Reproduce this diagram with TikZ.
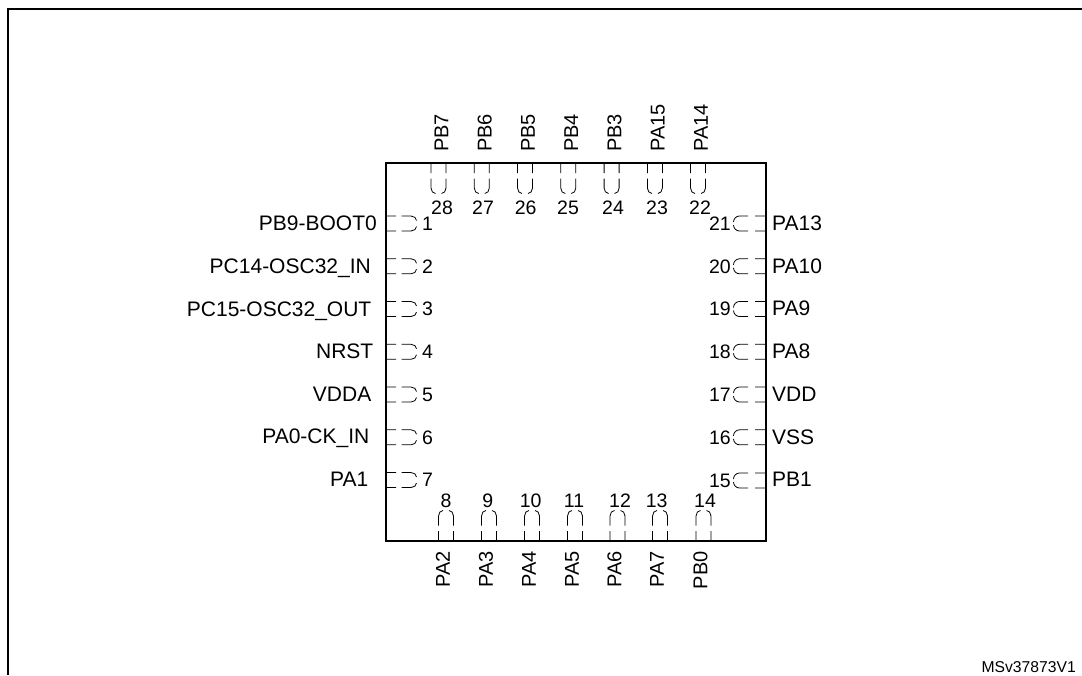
\documentclass[tikz,border=0pt]{standalone}
\usepackage{fontspec}
\setmainfont{Liberation Sans}
\tikzset{
  lbl/.style={inner sep=0pt,font=\fontsize{19.5}{22}\selectfont},
  sidelbl/.style={inner sep=0pt,font=\fontsize{21}{24}\selectfont},
  vertlbl/.style={inner sep=0pt,rotate=90,font=\fontsize{20}{22}\selectfont},
  frameline/.style={line width=2pt,line cap=butt},
  chip/.style={line width=2pt},
  pinline/.style={line width=0.8pt,black}
}
\newcommand{\pinL}{%
  \draw[pinline] (0,7.5)--(10,7.5) (0,-7.5)--(10,-7.5)
    (15.5,7.5)--(25,7.5) .. controls (28,7.5) and (30.5,5.5) .. (30.5,3)
    (15.5,-7.5)--(25,-7.5) .. controls (28,-7.5) and (30.5,-5.5) .. (30.5,-3);
}
\newcommand{\pinR}{%
  \draw[pinline] (0,7.5)--(10.5,7.5) (0,-7.5)--(10.5,-7.5)
    (17.5,7.5)--(26,7.5) .. controls (29,7.5) and (32,5) .. (32,1.5)
    (17.5,-7.5)--(26,-7.5) .. controls (29,-7.5) and (32,-5) .. (32,-1.5);
}
\begin{document}
\begin{tikzpicture}[x=1pt,y=-1pt]
\useasboundingbox (0,0) rectangle (1082,675);
\coordinate (fa) at (7.5,675);\coordinate (fb) at (7.5,9);\coordinate (fc) at (1082,9);
\draw[frameline] (fa)--(fb)--(fc);
\coordinate (c1) at (386,163);\coordinate (c2) at (765.5,163);\coordinate (c3) at (765.5,541);\coordinate (c4) at (386,541);
\draw[chip] (c1)--(c2)--(c3)--(c4)--cycle;
% left pins
\foreach \y/\n/\t/\e/\b in {223.5/1/PB9-BOOT0/377/230.5,266.3/2/PC14-OSC32\_IN/371/273.5,309/3/PC15-OSC32\_OUT/371.5/316,351.8/4/NRST/373.5/358.3,394.5/5/VDDA/371.5/401,437.3/6/PA0-CK\_IN/369.5/443.3,480/7/PA1/368.5/486.7}{
  \begin{scope}[shift={(386,\y)}]\pinL\end{scope}
  \node[lbl,anchor=west] (n\n) at (422,\y) {\n};
  \node[sidelbl,anchor=base east] (t\n) at (\e,\b) {\t};
}
% right pins
\foreach \y/\n/\t/\b in {223.5/21/PA13/230.7,266.3/20/PA10/273.3,309/19/PA9/315,351.8/18/PA8/358,394.5/17/VDD/401,437.3/16/VSS/444,480.5/15/PB1/486.5}{
  \begin{scope}[shift={(765.5,\y)},xscale=-1]\pinR\end{scope}
  \node[lbl,anchor=east] (n\n) at (731,\y) {\n};
  \node[sidelbl,anchor=base west] (t\n) at (772,\b) {\t};
}
% top pins
\foreach \x/\n/\t/\m in {438.5/28/PB7/442,481.8/27/PB6/483,525/26/PB5/525.7,568.3/25/PB4/568,611.6/24/PB3/613,654.9/23/PA15/657,698/22/PA14/700}{
  \begin{scope}[shift={(\x,163)},rotate=-90]\pinL\end{scope}
  \node[lbl] (n\n) at (\m,208) {\n};
  \node[vertlbl,anchor=west] (t\n) at (\x+3,152) {\t};
}
% bottom pins
\foreach \x/\n/\t/\m in {446/8/PA2/446,489/9/PA3/487.7,532/10/PA4/530.7,575/11/PA5/574,617.5/12/PA6/620,660/13/PA7/656.7,703.5/14/PB0/705}{
  \begin{scope}[shift={(\x,541)},rotate=90]\pinL\end{scope}
  \node[lbl] (n\n) at (\m,500.7) {\n};
  \node[vertlbl,anchor=east] (t\n) at (\x-3,551) {\t};
}
\node[anchor=east,inner sep=0pt,font=\fontsize{15.7}{18}\selectfont] (ref) at (1076,667) {MSv37873V1};
\end{tikzpicture}
\end{document}
